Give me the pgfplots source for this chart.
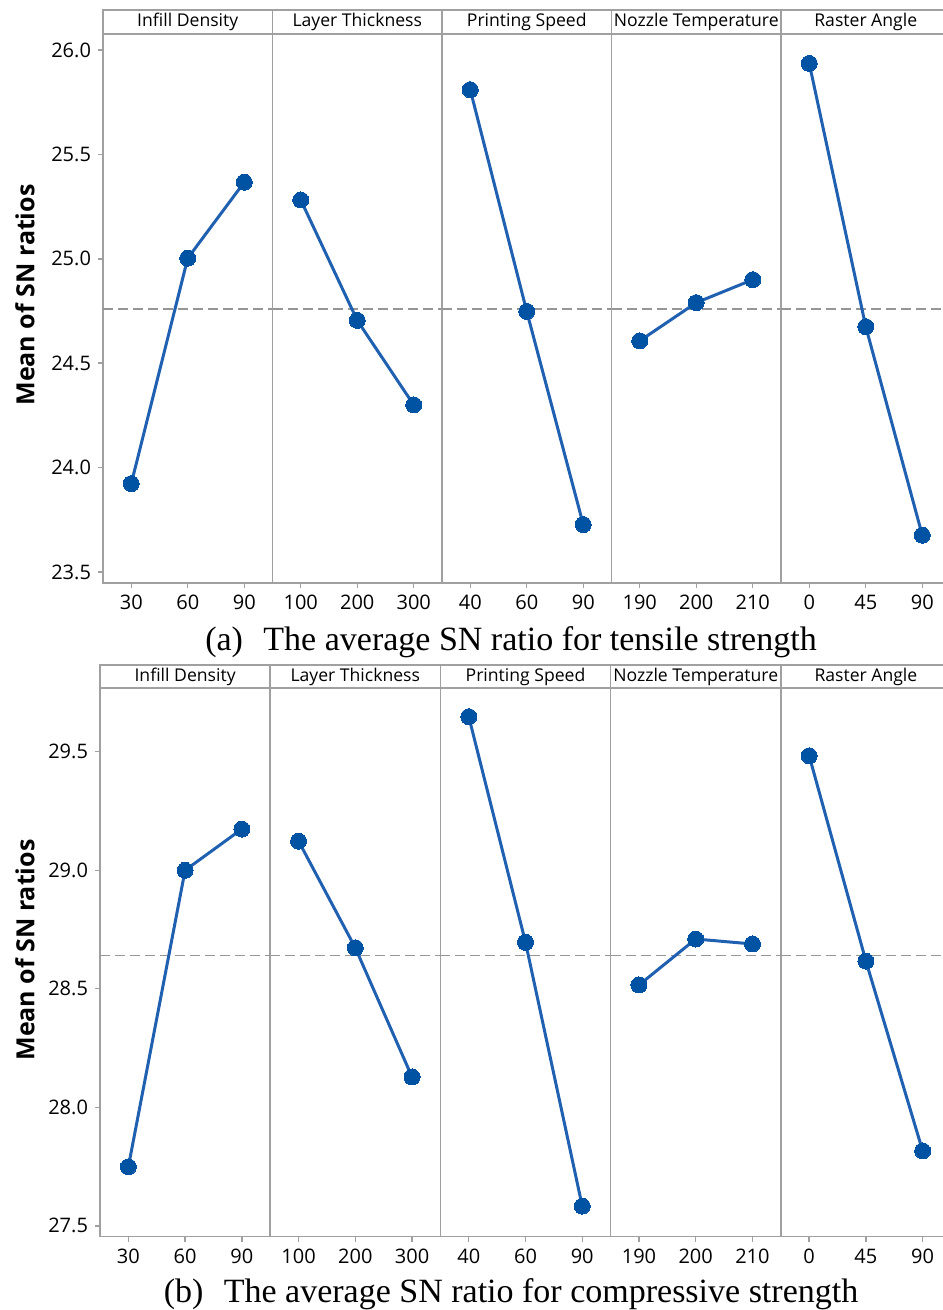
\documentclass[border=0pt]{standalone}
\usepackage{fontspec}
\setmainfont{Open Sans}
\newfontfamily\capfont{Liberation Serif}
\usepackage{pgfplots}
\pgfplotsset{compat=1.18}

\definecolor{framegray}{RGB}{160,160,160}
\definecolor{meangray}{RGB}{150,150,150}
\definecolor{dotblue}{RGB}{0,82,163}
\definecolor{lineblue}{RGB}{32,96,176}

% 1 px of the reference = 0.5pt
\pgfplotsset{
  base/.style={scale only axis, anchor=south west, clip=false,
    xmin=0.5, xmax=3.5, xtick={1,2,3},
    axis line style={framegray, line width=0.7pt},
    tick style={framegray, line width=0.7pt},
    major tick length=2.5pt, tick align=outside,
    xtick pos=bottom, ytick pos=left,
    tick label style={font=\fontsize{10}{12}\selectfont, black},
    /pgf/number format/assume math mode=true},
  rowa/.style={width=84.75pt, height=274.5pt, ymin=23.447, ymax=26.077,
    ytick={23.5,24,24.5,25,25.5,26}},
  rowb/.style={width=85.1pt, height=274.35pt, ymin=27.454, ymax=29.769,
    ytick={27.5,28,28.5,29,29.5}},
  firstcol/.style={yticklabel style={/pgf/number format/.cd, fixed, fixed zerofill, precision=1}},
  othercol/.style={ytick=\empty},
  meanline/.style={meangray, line width=0.6pt, dash pattern=on 5pt off 2.5pt},
  dataline/.style={lineblue, line width=1.5pt, mark=*, mark size=4pt,
    mark options={fill=dotblue, draw=dotblue, line width=0pt}},
}

% #1 x, #2 y, #3 row, #4 column, #5 title, #6 tick labels, #7 data, #8 mean, #9 strip height
\newcommand{\panel}[9]{%
\begin{axis}[base, #3, #4, at={(#1,#2)}, xticklabels={#6}]
  \addplot[meanline] coordinates {(0.5,#8)(3.5,#8)};
  \addplot[dataline] coordinates {#7};
  \draw[framegray, line width=0.7pt] (rel axis cs:0,1) rectangle ([yshift=#9]rel axis cs:1,1);
  \node[font=\fontsize{8.8}{10}\selectfont, inner sep=0pt] at ([yshift=0.5*#9]rel axis cs:0.5,1) {#5};
\end{axis}}

\begin{document}
\begin{tikzpicture}
\useasboundingbox (0,0) rectangle (471pt,-655pt);

% (a) tensile strength
\panel{51.5pt}{-291.5pt}{rowa}{firstcol}{Infill Density}{30,60,90}
  {(1,23.923)(2,25.003)(3,25.367)}{24.76}{12pt}
\panel{136.25pt}{-291.5pt}{rowa}{othercol}{Layer Thickness}{100,200,300}
  {(1,25.282)(2,24.705)(3,24.300)}{24.76}{12pt}
\panel{221pt}{-291.5pt}{rowa}{othercol}{Printing Speed}{40,60,90}
  {(1,25.810)(2,24.748)(3,23.727)}{24.76}{12pt}
\panel{305.75pt}{-291.5pt}{rowa}{othercol}{Nozzle Temperature}{190,200,210}
  {(1,24.607)(2,24.790)(3,24.900)}{24.76}{12pt}
\panel{390.5pt}{-291.5pt}{rowa}{othercol}{Raster Angle}{0,45,90}
  {(1,25.936)(2,24.675)(3,23.676)}{24.76}{12pt}

% (b) compressive strength
\panel{50pt}{-618.35pt}{rowb}{firstcol}{Infill Density}{30,60,90}
  {(1,27.749)(2,29.000)(3,29.174)}{28.64}{11.5pt}
\panel{135.1pt}{-618.35pt}{rowb}{othercol}{Layer Thickness}{100,200,300}
  {(1,29.123)(2,28.673)(3,28.128)}{28.64}{11.5pt}
\panel{220.2pt}{-618.35pt}{rowb}{othercol}{Printing Speed}{40,60,90}
  {(1,29.648)(2,28.696)(3,27.583)}{28.64}{11.5pt}
\panel{305.3pt}{-618.35pt}{rowb}{othercol}{Nozzle Temperature}{190,200,210}
  {(1,28.516)(2,28.710)(3,28.689)}{28.64}{11.5pt}
\panel{390.4pt}{-618.35pt}{rowb}{othercol}{Raster Angle}{0,45,90}
  {(1,29.483)(2,28.617)(3,27.816)}{28.64}{11.5pt}

\node[rotate=90, font=\bfseries\fontsize{12.5}{14}\selectfont] at (12.5pt,-147.5pt) {Mean of SN ratios};
\node[rotate=90, font=\bfseries\fontsize{12.5}{14}\selectfont] at (12.5pt,-475pt) {Mean of SN ratios};

\node[anchor=base, font=\capfont\fontsize{17}{20}\selectfont] at (255.5pt,-325.3pt) {(a)\hspace{0.6em}The average SN ratio for tensile strength};
\node[anchor=base, font=\capfont\fontsize{17}{20}\selectfont] at (255.5pt,-651.3pt) {(b)\hspace{0.6em}The average SN ratio for compressive strength};
\end{tikzpicture}
\end{document}
